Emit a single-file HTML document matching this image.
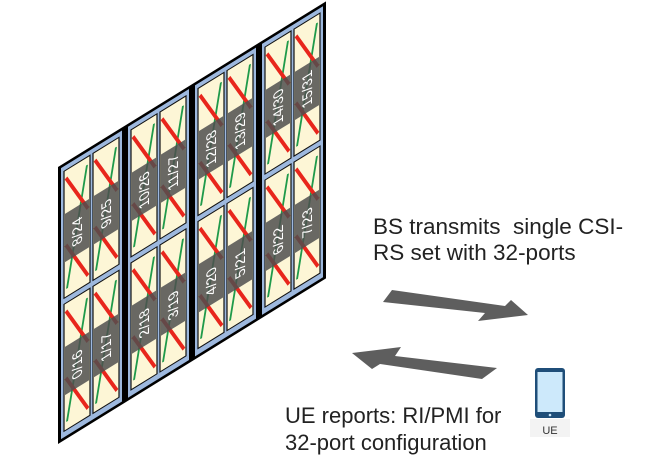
<!DOCTYPE html>
<html><head><meta charset="utf-8"><style>
html,body{margin:0;padding:0;background:#fff;width:668px;height:468px;overflow:hidden}
svg{display:block}
</style></head><body>
<svg width="668" height="468" viewBox="0 0 668 468" xmlns="http://www.w3.org/2000/svg" font-family="Liberation Sans, sans-serif">
<g transform="matrix(1,-0.618,0,1,58,167)">
<g stroke="#000" stroke-width="3" fill="#9db8de">
<rect x="1.5" y="1.5" width="64" height="274"/>
<rect x="68.5" y="1.5" width="64" height="274"/>
<rect x="135.5" y="1.5" width="64" height="274"/>
<rect x="202.5" y="1.5" width="64" height="274"/>
</g>
<g id="cells"></g>
</g>
<text x="373" y="234" font-size="22.5" fill="#222">BS transmits&#160; single CSI-</text>
<text x="373" y="260" font-size="22.5" fill="#222">RS set with 32-ports</text>
<text x="285" y="423" font-size="22" fill="#222">UE reports: RI/PMI for</text>
<text x="285" y="450" font-size="22" fill="#222">32-port configuration</text>
<polygon points="392,290 505,306 511,300 528,315 478,321 485,313 383,302" fill="#5e5e5e"/>
<polygon points="352,353 401,347 395,356 497,368 482,379 380,364 372,369" fill="#5e5e5e"/>
<rect x="530" y="419" width="40" height="18" fill="#f3f3f3"/>
<rect x="535" y="368" width="30" height="50" rx="3" fill="#1f4e79"/>
<rect x="537.5" y="372" width="25" height="40" fill="#cde9fb"/>
<circle cx="550" cy="415" r="1.3" fill="#cde9fb"/>
<text x="550" y="434" font-size="11" text-anchor="middle" fill="#333">UE</text>
</svg>
<script>
(function(){
var ns="http://www.w3.org/2000/svg";
var g=document.getElementById("cells");
var labels=[["8/24","9/25","0/16","1/17"],["10/26","11/27","2/18","3/19"],["12/28","13/29","4/20","5/21"],["14/30","15/31","6/22","7/23"]];
function el(t,a){var e=document.createElementNS(ns,t);for(var k in a)e.setAttribute(k,a[k]);g.appendChild(e);return e;}
for(var b=0;b<4;b++){
 var bx=b*67;
 for(var r=0;r<2;r++){
  for(var c=0;c<2;c++){
   var x=bx+6+c*29, y=r?141:8, w=26, h=127;
   el("rect",{x:x,y:y,width:w,height:h,fill:"#fdf6d6",stroke:"#111","stroke-width":1.2});
   el("line",{x1:x+3,y1:y+h-8,x2:x+w-3,y2:y+8,stroke:"#1f9a4a","stroke-width":2});
   el("line",{x1:x+2,y1:y+8,x2:x+w-2,y2:y+52,stroke:"#e8261c","stroke-width":3});
   el("line",{x1:x+2,y1:y+h-52,x2:x+w-2,y2:y+h-8,stroke:"#e8261c","stroke-width":3});
   el("rect",{x:x+1,y:y+h*0.34,width:w-2,height:h*0.38,fill:"#4f4f4f","fill-opacity":0.85});
   var cx=x+w/2, cy=y+h*0.54;
   var t=el("text",{x:0,y:0,"font-size":14,fill:"#fff","text-anchor":"middle",transform:"translate("+(cx+5)+","+cy+") rotate(-90)"});
   t.textContent=labels[b][r*2+c];
  }
 }
}
})();
</script>
</body></html>
